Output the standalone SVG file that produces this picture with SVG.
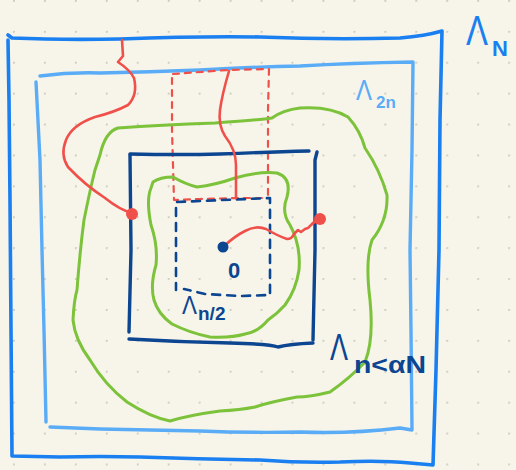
<svg xmlns="http://www.w3.org/2000/svg" width="516" height="470" viewBox="0 0 516 470">
<defs>
<pattern id="dots" x="13" y="0" width="30.95" height="30.9" patternUnits="userSpaceOnUse">
<circle cx="0.5" cy="0.5" r="1.5" fill="#cfccc2"/>
</pattern>
<style>
.ln{fill:none;stroke-linecap:round;stroke-linejoin:round}
.outer{stroke:#1a7ff0;stroke-width:3.6}
.mid{stroke:#5aacf7;stroke-width:3.4}
.navy{stroke:#0c4590;stroke-width:3.4}
.navyd{stroke:#0c4590;stroke-width:2.6;stroke-dasharray:8 7}
.redd{stroke:#f0504a;stroke-width:2.2;stroke-dasharray:6 6}
.red{stroke:#f0504a;stroke-width:2.6}
.green{stroke:#7cc23a;stroke-width:3}
.lab{font-family:"Liberation Sans","Noto Sans",sans-serif}
</style>
</defs>
<rect width="516" height="470" fill="#f7f5ea"/>
<rect width="516" height="470" fill="url(#dots)"/>

<g id="box-N">
<path class="ln outer" d="M8,35 L12,38 Q60,40 120,39 Q200,36 260,37 Q330,40 400,38 Q425,36 442,31 L440,120 L439,250 L436,370 L433,465 L410,463 Q380,460 340,462 Q300,463 260,460 Q200,459 140,457 Q100,456 60,457 L12,456 L11,330 L10,200 L9,100 L8,40"/>
</g>
<g id="box-2n">
<path class="ln mid" d="M40,76 Q70,72 100,73 Q150,72 200,70 Q250,67 300,66 Q350,63 413,62 L412,150 L410,250 L411,330 L412,430 L400,428 Q350,434 300,432 Q250,433 200,431 Q150,430 100,429 L50,427"/>
<path class="ln mid" d="M36,82 L40,160 L42,250 L44,330 L46,422"/>
</g>
<g id="box-red-dashed">
<path class="ln redd" d="M173,74 Q200,72 228,70 L269,69 L268,110 L268,198"/>
<path class="ln redd" d="M172,78 L172,130 L174,200 L200,199 L240,198 L268,198"/>
</g>
<g id="box-navy">
<path class="ln navy" d="M130,154 Q180,155 220,154 Q270,152 309,151"/>
<path class="ln navy" d="M317,152 L315,160 L315,250 L313,340"/>
<path class="ln navy" d="M129,339 Q180,342 230,343 Q270,344 278,347 Q290,344 313,343"/>
<path class="ln navy" d="M130,155 L131,250 L129,332"/>
</g>
<g id="box-n2">
<path class="ln navyd" d="M177,202 L270,198 L270,295 L240,296 L205,294 L184,289 M176,208 L176,290"/>
</g>

<g id="connectors">
<path class="ln green" d="M100,155 Q105,132 118,128 Q160,125 215,123 Q260,120 272,118 Q283,110 300,108 Q330,106 348,117 Q360,130 365,148 Q380,170 387,195 Q388,220 372,240 Q365,260 370,300 Q374,340 365,362 Q350,378 330,392 Q310,397 297,397 Q270,402 255,407 Q240,410 220,411 Q190,415 170,421 Q150,417 127,402 Q105,385 90,360 Q75,340 73,320 Q74,300 77,290 Q80,250 84,220 Q90,190 95,170 Z"/>
<path class="ln green" d="M153,182 Q160,177 173,177 Q185,184 197,187 Q215,185 235,178 Q260,171 277,173 Q292,178 287,197 Q281,212 290,225 Q301,245 299,270 Q296,290 285,305 Q278,313 268,320 Q258,332 245,334 Q232,338 210,337 Q190,333 172,324 Q158,314 154,300 Q150,285 156,265 Q158,245 151,225 Q146,200 151,188 Z"/>
<path class="ln red" d="M122,40 L123,56 L118,62 Q130,70 134,78 Q138,95 128,105 Q115,112 95,117 Q72,125 66,140 Q60,155 68,167 Q85,185 105,198 Q120,210 132,213"/>
<circle cx="132" cy="214" r="6" fill="#f0504a"/>
<path class="ln red" d="M229,71 Q222,95 220,110 Q218,125 225,136 Q236,150 236,165 L236,198"/>
<path class="ln red" d="M224,246 Q235,236 245,231 Q256,225 266,229 Q278,236 287,239 Q292,239 294,234 L298,230 L301,232 L305,229 L308,228 Q312,223 319,219"/>
<circle cx="320" cy="219" r="6" fill="#f0504a"/>
<circle cx="223" cy="247" r="5.5" fill="#0c4590"/>
</g>

<g id="labels" class="lab">
<text x="466" y="45" font-size="42" fill="#1a7ff0" textLength="22" lengthAdjust="spacingAndGlyphs">Λ</text>
<text x="492" y="56" font-size="22" fill="#1a7ff0" font-weight="bold">N</text>
<text x="356" y="100" font-size="30" fill="#5aacf7" textLength="16" lengthAdjust="spacingAndGlyphs">Λ</text>
<text x="376" y="108" font-size="17" fill="#5aacf7" font-weight="bold">2n</text>
<text x="330" y="360" font-size="36" fill="#0c4590" textLength="18" lengthAdjust="spacingAndGlyphs">Λ</text>
<text x="354" y="373" font-size="24" fill="#0c4590" font-weight="bold" textLength="72" lengthAdjust="spacingAndGlyphs">n&lt;αN</text>
<text x="182" y="314" font-size="26" fill="#0c4590" textLength="15" lengthAdjust="spacingAndGlyphs">Λ</text>
<text x="198" y="320" font-size="19" fill="#0c4590" font-weight="bold">n/2</text>
<text x="228" y="278" font-size="22" fill="#0c4590" font-weight="bold">0</text>
</g>
</svg>
